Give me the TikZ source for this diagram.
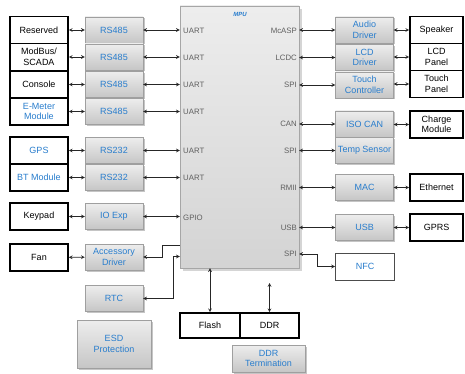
\documentclass[tikz,border=0pt]{standalone}
\usepackage{fontspec}
\setmainfont{Liberation Sans}
\usetikzlibrary{shadows}
\definecolor{lblue}{RGB}{40,125,205}
\definecolor{pingray}{RGB}{95,95,95}
\tikzset{
  ext/.style={draw, line width=1.6pt, fill=white, minimum width=58pt, minimum height=27pt,
    inner sep=1pt, align=center, font=\fontsize{9}{10.5}\selectfont},
  blk/.style={draw=gray!75, top color=gray!14, bottom color=gray!45,
    drop shadow={shadow xshift=1.5pt, shadow yshift=-1.5pt, fill=gray!90},
    minimum width=58pt, minimum height=26pt, inner sep=1pt, align=center, text=lblue,
    font=\fontsize{9}{10.5}\selectfont},
  pin/.style={text=pingray, inner sep=0pt, font=\fontsize{7.8}{8}\selectfont},
  lnk/.style={stealth-stealth, line width=0.7pt, black!85}
}
\begin{document}
\begin{tikzpicture}[x=1pt,y=-1pt]
\useasboundingbox (0,0) rectangle (465,374);
% processor
\node[draw=gray!70, top color=gray!14, bottom color=gray!34, minimum width=119pt, minimum height=262pt,
  drop shadow={shadow xshift=3pt, shadow yshift=-3pt, fill=gray!65}] (mpu) at (239.5,137) {};
\node[text=lblue, font=\fontsize{6}{6}\selectfont\bfseries\itshape] (mpulbl) at (240,14) {MPU};
% left side
\node[ext] (res) at (39,30) {Reserved};
\node[ext] (mod) at (39,57) {ModBus/\\SCADA};
\node[ext] (con) at (39,84.5) {Console};
\node[ext, text=lblue] (emeter) at (39,111.5) {E-Meter\\Module};
\node[ext, text=lblue] (gps) at (39,150.5) {GPS};
\node[ext, text=lblue] (bt) at (39,177.5) {BT Module};
\node[ext] (key) at (39,216.5) {Keypad};
\node[ext] (fan) at (39,257.5) {Fan};
\node[blk] (rs1) at (114,30) {RS485};
\node[blk] (rs2) at (114,57) {RS485};
\node[blk] (rs3) at (114,84.5) {RS485};
\node[blk] (rs4) at (114,111.5) {RS485};
\node[blk] (rs5) at (114,150.5) {RS232};
\node[blk] (rs6) at (114,177.5) {RS232};
\node[blk] (ioexp) at (114,216.5) {IO Exp};
\node[blk] (acc) at (114,257) {Accessory\\Driver};
\node[blk] (rtc) at (114,298.5) {RTC};
\node[blk, minimum width=74pt, minimum height=48pt] (esd) at (114,344) {ESD\\Protection};
\node[pin, anchor=west] (u1) at (183,31) {UART};
\node[pin, anchor=west] (u2) at (183,58) {UART};
\node[pin, anchor=west] (u3) at (183,85) {UART};
\node[pin, anchor=west] (u4) at (183,112) {UART};
\node[pin, anchor=west] (u5) at (183,151) {UART};
\node[pin, anchor=west] (u6) at (183,178) {UART};
\node[pin, anchor=west] (gpio) at (183,218) {GPIO};
\foreach \a/\b in {res/rs1, mod/rs2, con/rs3, emeter/rs4, gps/rs5, bt/rs6, key/ioexp, fan/acc}
  \draw[lnk] (\a) -- (\b);
\foreach \b in {rs1, rs2, rs3, rs4, rs5, rs6, ioexp}
  \draw[lnk] (\b.east) -- (\b.east -| mpu.west);
\draw[-stealth, line width=0.7pt, black!85] (mpu.west |- 0,245) -- (162,245) |- (acc.east);
\draw[lnk] (rtc.east) -- ++(30,0) |- (mpu.west |- 0,256.5);
% right side
\node[blk] (aud) at (364.5,30) {Audio\\Driver};
\node[blk] (lcd) at (364.5,57.5) {LCD\\Driver};
\node[blk] (tch) at (364.5,85) {Touch\\Controller};
\node[blk] (iso) at (364.5,124) {ISO CAN};
\node[blk] (tmp) at (364.5,150.5) {Temp Sensor};
\node[blk] (mac) at (364.5,187.5) {MAC};
\node[blk] (usb) at (364.5,227.5) {USB};
\node[draw=gray!60!black, line width=1pt, fill=white, text=lblue, minimum width=59pt, minimum height=27pt,
  font=\fontsize{9}{10.5}\selectfont] (nfc) at (365,266.5) {NFC};
\node[ext, minimum width=53pt] (spk) at (436.5,30) {Speaker};
\node[ext, minimum width=53pt] (lcdp) at (436.5,57) {LCD\\Panel};
\node[ext, minimum width=53pt] (tchp) at (436.5,84) {Touch\\Panel};
\node[ext, minimum width=53pt] (chg) at (436.5,124.5) {Charge\\Module};
\node[ext, minimum width=53pt] (eth) at (436.5,187.5) {Ethernet};
\node[ext, minimum width=53pt] (gprs) at (436.5,227.5) {GPRS};
\node[pin, anchor=east] (mcasp) at (297,31) {McASP};
\node[pin, anchor=east] (lcdc) at (297,58) {LCDC};
\node[pin, anchor=east] (spi1) at (297,85) {SPI};
\node[pin, anchor=east] (can) at (297,124) {CAN};
\node[pin, anchor=east] (spi2) at (297,151) {SPI};
\node[pin, anchor=east] (rmii) at (297,188) {RMII};
\node[pin, anchor=east] (usbp) at (297,228) {USB};
\node[pin, anchor=east] (spi3) at (297,254) {SPI};
\foreach \b/\c in {aud/spk, lcd/lcdp, tch/tchp, iso/chg, mac/eth, usb/gprs}
  \draw[lnk] (\b.east |- \c) -- (\c);
\foreach \b in {aud, lcd, tch, iso, tmp, mac, usb}
  \draw[lnk] (\b.west -| mpu.east) -- (\b.west);
\draw[lnk] (mpu.east |- 0,254) -- ++(18,0) |- (nfc.west);
% memory
\node[ext, minimum width=60pt, minimum height=25pt] (flash) at (210,325.5) {Flash};
\node[ext, minimum width=59pt, minimum height=25pt] (ddr) at (269.5,325.5) {DDR};
\node[blk, minimum width=73pt, minimum height=27pt] (ddrt) at (268.5,358.5) {DDR\\Termination};
\coordinate (ddrtop) at (269.5,283);
\draw[lnk] (flash.north) -- (flash.north |- mpu.south);
\draw[lnk] (ddr.north) -- (ddrtop);
\end{tikzpicture}
\end{document}
